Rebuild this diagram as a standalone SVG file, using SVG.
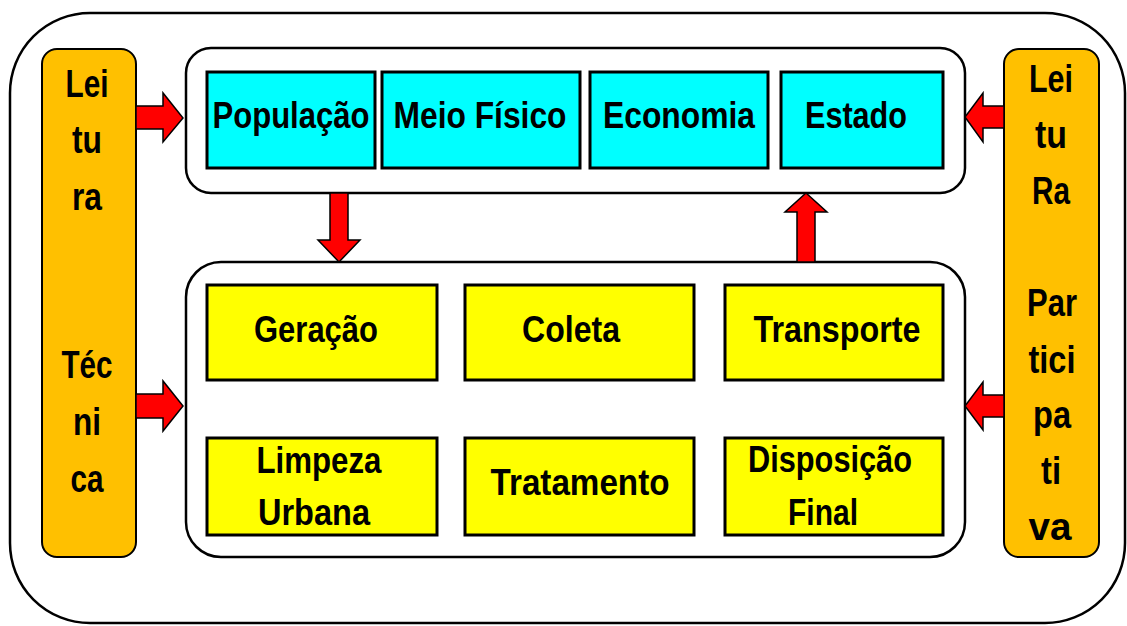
<svg xmlns="http://www.w3.org/2000/svg" width="1127" height="626" viewBox="0 0 1127 626">
<style>
.frame{fill:#fff;stroke:#000;stroke-width:2.5}
.bar{fill:#FFC000;stroke:#000;stroke-width:2}
.cy{fill:#00FFFF;stroke:#000;stroke-width:3}
.ye{fill:#FFFF00;stroke:#000;stroke-width:3}
.arr{fill:#FF0000;stroke:#000;stroke-width:1.5;stroke-linejoin:miter}
text{font-family:"Liberation Sans",Arial,sans-serif;font-weight:bold;font-size:37px;fill:#000;text-anchor:middle}
.side{font-size:38px}
</style>
<rect width="1127" height="626" fill="#fff"/>
<g id="outer"><rect class="frame" x="10" y="13" width="1115" height="610" rx="80"/></g>
<g id="leitura-tecnica">
<rect class="bar" x="42" y="49" width="94" height="508" rx="15"/>
<text class="side" x="87" y="97" textLength="43" lengthAdjust="spacingAndGlyphs">Lei</text>
<text class="side" x="87" y="153" textLength="30" lengthAdjust="spacingAndGlyphs">tu</text>
<text class="side" x="87" y="210" textLength="30" lengthAdjust="spacingAndGlyphs">ra</text>
<text class="side" x="87" y="378" textLength="51" lengthAdjust="spacingAndGlyphs">Téc</text>
<text class="side" x="87" y="435" textLength="28" lengthAdjust="spacingAndGlyphs">ni</text>
<text class="side" x="87" y="492" textLength="33" lengthAdjust="spacingAndGlyphs">ca</text>
</g>
<g id="leitura-participativa">
<rect class="bar" x="1004" y="49" width="95" height="508" rx="15"/>
<text class="side" x="1051" y="92" textLength="44" lengthAdjust="spacingAndGlyphs">Lei</text>
<text class="side" x="1051" y="148" textLength="32" lengthAdjust="spacingAndGlyphs">tu</text>
<text class="side" x="1051" y="204" textLength="38" lengthAdjust="spacingAndGlyphs">Ra</text>
<text class="side" x="1052" y="316" textLength="50" lengthAdjust="spacingAndGlyphs">Par</text>
<text class="side" x="1052" y="373" textLength="47" lengthAdjust="spacingAndGlyphs">tici</text>
<text class="side" x="1052" y="428" textLength="38" lengthAdjust="spacingAndGlyphs">pa</text>
<text class="side" x="1051" y="484" textLength="20" lengthAdjust="spacingAndGlyphs">ti</text>
<text class="side" x="1050" y="540" textLength="43" lengthAdjust="spacingAndGlyphs">va</text>
</g>
<g id="top-container"><rect class="frame" x="186" y="48" width="779" height="145" rx="25"/></g>
<g id="bottom-container"><rect class="frame" x="186" y="262" width="779" height="295" rx="35"/></g>
<g id="populacao"><rect class="cy" x="207" y="72" width="168" height="96"/><text x="291" y="128" textLength="157" lengthAdjust="spacingAndGlyphs">População</text></g>
<g id="meio-fisico"><rect class="cy" x="382" y="72" width="198" height="96"/><text x="480" y="128" textLength="173" lengthAdjust="spacingAndGlyphs">Meio Físico</text></g>
<g id="economia"><rect class="cy" x="590" y="72" width="178" height="96"/><text x="679" y="128" textLength="152" lengthAdjust="spacingAndGlyphs">Economia</text></g>
<g id="estado"><rect class="cy" x="781" y="72" width="162" height="96"/><text x="856" y="128" textLength="102" lengthAdjust="spacingAndGlyphs">Estado</text></g>
<g id="geracao"><rect class="ye" x="207" y="285" width="230" height="95"/><text x="316" y="342" textLength="124" lengthAdjust="spacingAndGlyphs">Geração</text></g>
<g id="coleta"><rect class="ye" x="465" y="285" width="229" height="95"/><text x="571" y="342" textLength="98" lengthAdjust="spacingAndGlyphs">Coleta</text></g>
<g id="transporte"><rect class="ye" x="725" y="285" width="218" height="95"/><text x="837" y="342" textLength="167" lengthAdjust="spacingAndGlyphs">Transporte</text></g>
<g id="limpeza"><rect class="ye" x="207" y="438" width="230" height="97"/><text x="319" y="473" textLength="125" lengthAdjust="spacingAndGlyphs">Limpeza</text><text x="314" y="525" textLength="112" lengthAdjust="spacingAndGlyphs">Urbana</text></g>
<g id="tratamento"><rect class="ye" x="465" y="438" width="229" height="97"/><text x="580" y="495" textLength="179" lengthAdjust="spacingAndGlyphs">Tratamento</text></g>
<g id="disposicao"><rect class="ye" x="725" y="438" width="218" height="97"/><text x="830" y="472" textLength="164" lengthAdjust="spacingAndGlyphs">Disposição</text><text x="823" y="525" textLength="70" lengthAdjust="spacingAndGlyphs">Final</text></g>
<g id="connectors">
<polygon class="arr" points="136,106 163,106 163,93 183,118 163,142 163,129 136,129"/>
<polygon class="arr" points="136,394 163,394 163,381 183,406 163,431 163,418 136,418"/>
<polygon class="arr" points="1004,106 983,106 983,93 965,117 983,142 983,128 1004,128"/>
<polygon class="arr" points="1004,395 983,395 983,382 965,406 983,430 983,417 1004,417"/>
<polygon class="arr" points="330,193 348,193 348,240 360,240 339,262 318,240 330,240"/>
<polygon class="arr" points="797,262 815,262 815,212 827,212 806,193 785,212 797,212"/>
</g>
</svg>
